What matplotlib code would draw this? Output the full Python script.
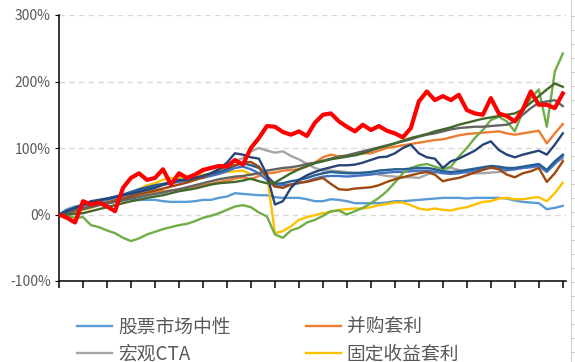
"""Cumulative return of hedge-fund strategy indices vs. the highlighted fund (red)."""

import matplotlib
matplotlib.use("Agg")
import matplotlib.pyplot as plt
from matplotlib.ticker import FuncFormatter

plt.rcParams["font.family"] = ["Noto Sans CJK SC", "DejaVu Sans"]

# ---- data: cumulative return (%), evenly spaced observations ----
equity_neutral = [0, 8, 12, 14, 17, 20, 23, 24, 27, 23, 22, 22, 22, 20, 19, 19, 19, 20, 22, 22,
                  25, 27, 32, 31, 30, 29, 29, 26, 25, 25, 25, 23, 20, 20, 23, 22, 20, 17, 17, 17,
                  17, 18, 20, 20, 21, 22, 23, 24, 25, 25, 25, 24, 25, 25, 25, 25, 24, 21, 19, 18,
                  17, 8, 10, 13]
merger_arb = [0, 3, 6, 9, 12, 15, 17, 19, 22, 25, 30, 33, 34, 35, 36, 37, 40, 42, 44, 46,
              49, 51, 54, 56, 53, 58, 62, 63, 66, 67, 68, 72, 78, 86, 90, 87, 88, 90, 92, 92,
              96, 100, 102, 104, 106, 108, 110, 112, 113, 116, 119, 121, 122, 123, 124, 125, 122, 120, 122, 124,
              126, 107, 122, 136]
macro_cta = [0, 3, 6, 9, 12, 15, 18, 21, 24, 28, 32, 36, 40, 44, 47, 50, 54, 58, 65, 70,
             72, 76, 80, 85, 95, 100, 96, 93, 95, 88, 83, 76, 70, 66, 66, 65, 64, 63, 62, 62,
             60, 58, 57, 56, 56, 55, 60, 65, 68, 70, 67, 63, 62, 62, 63, 64, 66, 68, 70, 72,
             74, 65, 78, 84]
fixed_income_arb = [0, 2, 4, 7, 10, 14, 18, 22, 27, 32, 38, 44, 47, 52, 55, 55, 57, 58, 60, 61,
                    63, 64, 65, 66, 60, 62, 60, -28, -25, -18, -8, -4, -1, 2, 4, 7, 8, 9, 9, 11,
                    14, 16, 18, 18, 14, 9, 7, 9, 7, 6, 9, 11, 15, 19, 20, 24, 25, 23, 23, 25,
                    26, 20, 32, 48]
blue_a = [0, 5, 9, 13, 16, 19, 22, 25, 28, 32, 36, 40, 42, 45, 47, 49, 51, 53, 55, 58,
          61, 65, 70, 72, 68, 62, 52, 42, 44, 45, 47, 50, 54, 57, 58, 58, 57, 58, 59, 60,
          62, 63, 64, 64, 65, 66, 66, 64, 62, 61, 62, 64, 66, 68, 70, 69, 67, 68, 70, 71,
          73, 64, 76, 88]
green = [0, -2, -5, -4, -16, -19, -24, -28, -35, -40, -36, -30, -26, -22, -19, -16, -14, -10, -5, -2,
         2, 7, 12, 14, 11, 3, -3, -30, -35, -24, -20, -12, -8, -2, 5, 6, 0, 5, 10, 17,
         25, 35, 48, 62, 70, 74, 76, 72, 68, 72, 87, 100, 115, 127, 142, 147, 140, 125, 155, 175,
         188, 132, 215, 242]
blue_b = [0, 6, 10, 14, 18, 21, 24, 27, 30, 34, 38, 41, 44, 46, 49, 51, 53, 55, 58, 61,
          64, 68, 74, 77, 74, 70, 58, 46, 47, 50, 52, 55, 59, 62, 64, 63, 62, 62, 63, 64,
          66, 67, 68, 68, 69, 70, 70, 68, 65, 64, 65, 67, 69, 71, 73, 72, 70, 70, 72, 74,
          76, 67, 80, 90]
brown = [0, 3, 6, 9, 12, 15, 18, 21, 24, 27, 30, 33, 36, 39, 42, 45, 48, 52, 56, 62,
         68, 72, 74, 78, 79, 72, 56, 42, 40, 45, 48, 49, 52, 55, 46, 38, 37, 39, 40, 41,
         44, 49, 53, 56, 59, 62, 64, 60, 50, 53, 55, 59, 63, 67, 71, 68, 60, 56, 62, 65,
         70, 49, 62, 80]
dark_gray = [0, 2, 5, 8, 11, 14, 16, 19, 21, 24, 26, 29, 31, 33, 36, 38, 41, 44, 47, 50,
             53, 55, 57, 58, 60, 62, 66, 68, 70, 71, 73, 76, 78, 81, 84, 87, 89, 92, 95, 98,
             101, 104, 107, 110, 113, 117, 120, 122, 125, 128, 130, 131, 132, 132, 133, 134, 135, 140, 150, 160,
             168, 170, 172, 163]
navy = [0, 5, 10, 15, 20, 22, 24, 26, 29, 31, 34, 37, 40, 45, 48, 52, 52, 55, 58, 62,
        68, 78, 92, 90, 86, 84, 60, 15, 20, 40, 52, 59, 64, 68, 71, 74, 74, 75, 78, 82,
        86, 87, 92, 100, 105, 92, 86, 84, 70, 80, 84, 90, 96, 105, 110, 97, 90, 86, 90, 93,
        96, 90, 105, 122]
dark_green = [0, 0, 1, 2, 5, 8, 11, 14, 17, 20, 22, 25, 27, 29, 32, 35, 37, 39, 42, 45,
              47, 48, 49, 51, 54, 50, 47, 48, 55, 62, 68, 73, 77, 80, 83, 85, 87, 89, 92, 96,
              100, 103, 107, 111, 115, 118, 121, 125, 128, 131, 135, 138, 141, 144, 146, 148, 150, 152, 158, 168,
              178, 188, 197, 192]
fund = [0, -5, -12, 20, 15, 18, 12, 5, 40, 55, 62, 52, 55, 68, 45, 62, 55, 60, 67, 70,
        73, 72, 82, 75, 100, 115, 133, 132, 124, 120, 125, 118, 138, 150, 152, 140, 132, 125, 135, 127,
        133, 126, 122, 116, 130, 170, 185, 172, 178, 172, 180, 157, 152, 150, 175, 152, 148, 140, 158, 185,
        165, 165, 160, 182]

legend_labels = ["股票市场中性", "并购套利", "宏观CTA", "固定收益套利"]
y_ticks = [-100, 0, 100, 200, 300]

fig = plt.figure(figsize=(5.75, 3.62), dpi=100)
ax = fig.add_axes([59 / 575, 1 - 281 / 362, 507 / 575, 266 / 362])

x = range(len(fund))
lw = 1.7
l_neutral, = ax.plot(x, equity_neutral, color="#5B9BD5", lw=lw)
l_merger, = ax.plot(x, merger_arb, color="#ED7D31", lw=lw)
l_cta, = ax.plot(x, macro_cta, color="#A5A5A5", lw=lw)
l_fixed, = ax.plot(x, fixed_income_arb, color="#FFC000", lw=lw)
ax.plot(x, blue_a, color="#4472C4", lw=lw)
ax.plot(x, green, color="#70AD47", lw=lw)
ax.plot(x, blue_b, color="#255E91", lw=lw)
ax.plot(x, brown, color="#9E480E", lw=lw)
ax.plot(x, dark_gray, color="#636363", lw=lw)
ax.plot(x, navy, color="#264478", lw=lw)
ax.plot(x, dark_green, color="#43682B", lw=lw)
ax.plot(x, fund, color="#FF0000", lw=3.0, zorder=5)

ax.set_xlim(0, len(fund) - 0.6)
ax.set_ylim(-100, 300)
ax.set_yticks(y_ticks)
ax.yaxis.set_major_formatter(FuncFormatter(lambda v, _: f"{v:.0f}%"))
ax.set_xticks(range(0, len(fund), 3))
ax.set_xticklabels([])
ax.grid(axis="y", color="#D9D9D9", linestyle=(0, (4, 3)), lw=1)
ax.set_axisbelow(True)
for s in ("top", "right"):
    ax.spines[s].set_visible(False)
for s in ("left", "bottom"):
    ax.spines[s].set_color("#000000")
    ax.spines[s].set_linewidth(1.1)
ax.tick_params(axis="y", length=3, color="#000000", labelcolor="#595959", labelsize=10, pad=3)
ax.tick_params(axis="x", length=5, color="#000000", width=1.1)

fig.legend(
    [l_neutral, l_cta, l_merger, l_fixed],
    [legend_labels[0], legend_labels[2], legend_labels[1], legend_labels[3]],
    ncol=2, loc="upper left", bbox_to_anchor=(77 / 575, 1 - 317 / 362),
    frameon=False, fontsize=13.5, labelcolor="#595959",
    handlelength=1.87, handletextpad=0.32, columnspacing=4.0,
    labelspacing=0.28, borderpad=0, borderaxespad=0,
)

# edge of the neighbouring chart, cut off at the right
edge = fig.add_axes([571 / 575, 0, 4 / 575, 1])
edge.set_ylim(362, 0)
edge.set_yticks(range(16, 362, 14))
edge.set_yticklabels([])
edge.set_xticks([])
for s in ("top", "right", "bottom"):
    edge.spines[s].set_visible(False)
edge.spines["left"].set_color("#D0D0D0")
edge.tick_params(axis="y", direction="in", length=4, color="#D0D0D0")
edge.patch.set_visible(False)

fig.savefig("out.png", dpi=100)
